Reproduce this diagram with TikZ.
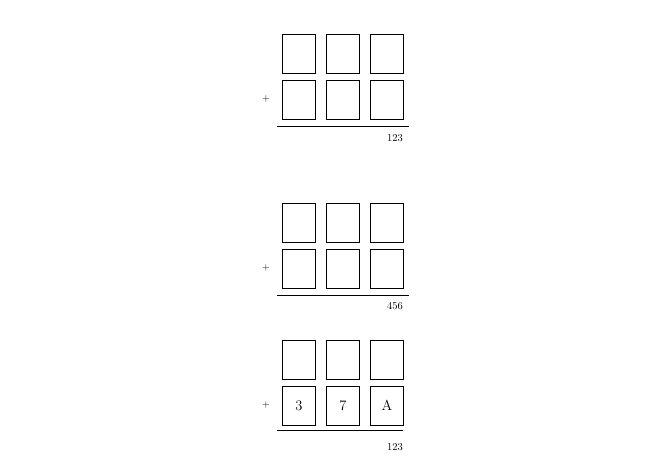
\documentclass[tikz,border=0pt]{standalone}
\begin{document}
\begin{tikzpicture}[x=1pt,y=-1pt,
  cell/.style={draw,line width=0.9pt,minimum width=33pt,minimum height=38.5pt,inner sep=0pt,anchor=north west,font=\fontsize{14.5}{16}\selectfont},
  rule/.style={line width=0.95pt},
  sumlbl/.style={font=\fontsize{10.5}{12}\selectfont,inner sep=0pt},
  plus/.style={font=\fontsize{10}{12}\selectfont,inner sep=0pt}]
\useasboundingbox (0,0) rectangle (666,463);
% block 1
\node[cell] (a1) at (282,34) {};
\node[cell] (a2) at (326,34) {};
\node[cell] (a3) at (370,34) {};
\node[cell] (b1) at (282,80) {};
\node[cell] (b2) at (326,80) {};
\node[cell] (b3) at (370,80) {};
\node[plus] (p1) at (266,99) {$+$};
\coordinate (l1a) at (277,126);
\coordinate (l1b) at (409,126);
\draw[rule] (l1a) -- (l1b);
\node[sumlbl] (s1) at (395,138) {123};
% block 2
\node[cell] (c1) at (282,203) {};
\node[cell] (c2) at (326,203) {};
\node[cell] (c3) at (370,203) {};
\node[cell] (d1) at (282,249) {};
\node[cell] (d2) at (326,249) {};
\node[cell] (d3) at (370,249) {};
\node[plus] (p2) at (266,268) {$+$};
\coordinate (l2a) at (277,295);
\coordinate (l2b) at (409,295);
\draw[rule] (l2a) -- (l2b);
\node[sumlbl] (s2) at (395,306) {456};
% block 3
\node[cell] (e1) at (282,340) {};
\node[cell] (e2) at (326,340) {};
\node[cell] (e3) at (370,340) {};
\node[cell] (f1) at (282,386) {3};
\node[cell] (f2) at (326,386) {7};
\node[cell] (f3) at (370,386) {A};
\node[plus] (p3) at (266,405) {$+$};
\coordinate (l3a) at (277,430);
\coordinate (l3b) at (403,430);
\draw[rule] (l3a) -- (l3b);
\node[sumlbl] (s3) at (395,447) {123};
\end{tikzpicture}
\end{document}
